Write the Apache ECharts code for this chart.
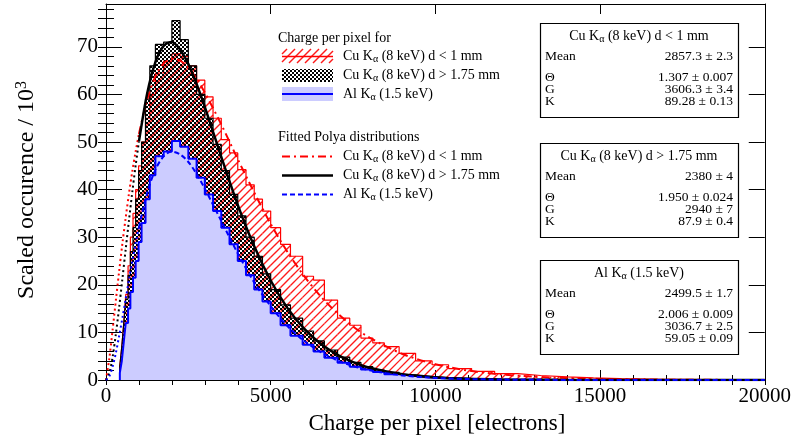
<!DOCTYPE html>
<html><head><meta charset="utf-8">
<script src="https://cdn.jsdelivr.net/npm/echarts@6/dist/echarts.min.js"></script>
<style>html,body{margin:0;padding:0;background:#fff}#c{width:794px;height:443px}</style>
</head><body><div id="c"></div>
<script>
// ---------- data ----------
const binEdges = [420,480,540,600,670,740,820,900,990,1080,1200,1330,1500,1750,2000,2250,2500,2750,3000,3250,3500,3750,4000,4250,4500,4750,5000,5300,5600,5970,6300,6630,7030,7400,7740,8100,8450,8900,9400,9900,10400,11100,11800,12500,13200,14000,14800,15600,16500,17400,18300,19200,20000];
const cuNearCounts = [3,7,12,18,24,30,35,40,45,50,55,60,64.5,67,68.5,68,66,63,59.5,55,50.5,47.7,44.2,41,38,35.5,32,28.5,26,21.8,21,16.8,13,11.5,8.8,7.8,7.0,5.6,4.0,3.2,2.4,1.8,1.35,0.95,0.65,0.45,0.3,0.2,0.13,0.08,0.05,0.03];
const cuFarCounts = [3,7,12,17,22,27,32,38,44,50,59,66,70.5,71,75.5,71.5,66,60,55,49.5,44,39,34.5,30,26,22.3,19,15.8,13,10.3,8.2,6.3,4.8,3.7,2.8,2.1,1.6,1.1,0.75,0.5,0.32,0.18,0.1,0.06,0.03,0.02,0.01,0.01,0.01,0,0,0];
const alCounts = [1.5,4,8,12,15,18.5,21.5,25,29,33,38,43,47,48,50.2,49,46.5,42.5,39,35.5,32,28.5,25,22,19,16.5,14,11.5,9.3,7.4,6.0,4.7,3.6,2.8,2.2,1.7,1.2,0.83,0.55,0.37,0.22,0.12,0.06,0.03,0.02,0.02,0.01,0.01,0,0,0,0];

const fitLowX = [0,100,200,300,400,500,600,700,800,900,1000];
const fitCuNearLow = [0,4.5,10.5,16.8,22.9,28.8,34.2,39.3,43.9,48.0,51.7];
const fitCuFarLow = [0,1.4,4.8,9.7,15.3,21.4,27.6,33.7,39.6,45.1,50.1];
const fitAlLow = [0,0.8,2.8,5.7,9.3,13.1,17.1,21.2,25.0,28.7,32.1];

const fitX = [1000,1250,1500,1750,2000,2250,2500,2750,3000,3500,4000,4500,5000,5500,6000,6500,7000,7500,8000,9000,10000,11000,12000,13000,14000,15000,16000,17000,18000,19000,20000];
const fitCuNear = [51.7,58.9,63.8,66.5,67.5,67.1,65.6,63.3,60.4,53.7,46.4,39.4,32.8,27.0,22.0,17.7,14.2,11.25,8.9,5.47,3.31,1.98,1.17,0.69,0.40,0.23,0.13,0.07,0.04,0.02,0.01];
const fitCuFar = [50.1,60.2,66.8,70.2,71.0,69.4,66.4,62.2,57.4,46.9,36.8,28.1,20.9,15.2,10.9,7.7,5.4,3.75,2.57,1.19,0.53,0.24,0.1,0.045,0.02,0.01,0,0,0,0,0];
const fitAl = [32.1,39.3,44.2,47.0,48.0,47.4,45.8,43.3,40.2,33.4,26.6,20.5,15.5,11.4,8.3,5.94,4.20,2.94,2.04,0.96,0.44,0.2,0.09,0.04,0.02,0.01,0,0,0,0,0];

const xMajorTicks = [0,5000,10000,15000,20000];
const xMinorTicks = [0,1000,2000,3000,4000,5000,6000,7000,8000,9000,10000,11000,12000,13000,14000,15000,16000,17000,18000,19000,20000];
const yMajorTicks = [0,10,20,30,40,50,60,70];
const yMinorTicks = [0,2,4,6,8,10,12,14,16,18,20,22,24,26,28,30,32,34,36,38,40,42,44,46,48,50,52,54,56,58,60,62,64,66,68,70,72,74,76,78];

const statsTitles = [['Cu K','α',' (8 keV) d < 1 mm'],['Cu K','α',' (8 keV) d > 1.75 mm'],['Al K','α',' (1.5 keV)']];
const statsNames = ['Mean','Θ','G','K'];
const statsCuNear = ['2857.3 ± 2.3','1.307 ± 0.007','3606.3 ± 3.4','89.28 ± 0.13'];
const statsCuFar = ['2380 ± 4','1.950 ± 0.024','2940 ± 7','87.9 ± 0.4'];
const statsAl = ['2499.5 ± 1.7','2.006 ± 0.009','3036.7 ± 2.5','59.05 ± 0.09'];
const legendHistLabels = statsTitles;
const legendFitLabels = statsTitles;

// ---------- styling helpers ----------
const FONT = 'Liberation Serif';
const HATCH_STEP = 8;
function checkerCanvas(){
  const c=document.createElement('canvas'); c.width=4; c.height=4;
  const g=c.getContext('2d'); g.fillStyle='#000';
  g.fillRect(0,0,2,2); g.fillRect(2,2,2,2);
  return c;
}
const checker = checkerCanvas();

// diagonal "/" hatch lines clipped to a screen rectangle
function hatchLines(left,right,top,bottom,style){
  const out=[];
  if(right-left<0.5 || bottom-top<0.5) return out;
  const cStart=Math.ceil((left+top)/HATCH_STEP)*HATCH_STEP;
  for(let c=cStart;c<=right+bottom;c+=HATCH_STEP){
    const xa=Math.max(left,c-bottom), xb=Math.min(right,c-top);
    if(xb<=xa) continue;
    out.push({type:'line',shape:{x1:xa,y1:c-xa,x2:xb,y2:c-xb},style:Object.assign({},style)});
  }
  return out;
}
const hatchStyle={stroke:'#ff1a1a',lineWidth:1.35,fill:null};

function histPoints(vals){
  const pts=[[binEdges[0],0]];
  for(let i=0;i<vals.length;i++) pts.push([binEdges[i],vals[i]]);
  pts.push([binEdges[binEdges.length-1], vals[vals.length-1]]);
  return pts;
}
function binTriples(vals){ return vals.map((v,i)=>[binEdges[i],binEdges[i+1],v]); }
function pairs(xs,ys){ return xs.map((x,i)=>[x,ys[i]]); }

function richK(parts, fs){
  return {
    text: '{n|'+parts[0]+'}{s|'+parts[1]+'}{n|'+parts[2]+'}',
    rich: {
      n:{fontFamily:FONT,fontSize:fs,lineHeight:fs+2,fill:'#000',verticalAlign:'middle'},
      s:{fontFamily:FONT,fontSize:Math.round(fs*0.72),lineHeight:7,fill:'#000',verticalAlign:'bottom'}
    }
  };
}

// ---------- axes ----------
const xBase = {type:'value',min:0,max:20000,splitLine:{show:false},axisLine:{show:false},axisLabel:{show:false},axisTick:{show:false}};
const yBase = {type:'value',min:0,max:79,splitLine:{show:false},axisLine:{show:false},axisLabel:{show:false},axisTick:{show:false}};
const blk = {color:'#000',width:1};
const plain = v => String(v);
const xAxes = [
  Object.assign({},xBase,{position:'bottom',axisLine:{show:true,onZero:false,lineStyle:blk},
     axisTick:{show:true,inside:true,length:10,customValues:xMajorTicks,lineStyle:blk},
     axisLabel:{show:true,customValues:xMajorTicks,formatter:plain,fontFamily:FONT,fontSize:21,color:'#000',margin:6}}),
  Object.assign({},xBase,{position:'bottom',axisTick:{show:true,inside:true,length:5,customValues:xMinorTicks,lineStyle:blk}}),
  Object.assign({},xBase,{position:'top',axisLine:{show:true,onZero:false,lineStyle:blk},
     axisTick:{show:true,inside:true,length:10,customValues:xMajorTicks,lineStyle:blk}}),
  Object.assign({},xBase,{position:'top',axisTick:{show:true,inside:true,length:5,customValues:xMinorTicks,lineStyle:blk}})
];
const yAxes = [
  Object.assign({},yBase,{position:'left',axisLine:{show:true,onZero:false,lineStyle:blk},
     axisTick:{show:true,inside:true,length:16,customValues:yMajorTicks,lineStyle:blk},
     axisLabel:{show:true,customValues:yMajorTicks,formatter:plain,fontFamily:FONT,fontSize:21,color:'#000',margin:8}}),
  Object.assign({},yBase,{position:'left',axisTick:{show:true,inside:true,length:8,customValues:yMinorTicks,lineStyle:blk}}),
  Object.assign({},yBase,{position:'right',axisLine:{show:true,onZero:false,lineStyle:blk},
     axisTick:{show:true,inside:true,length:16,customValues:yMajorTicks,lineStyle:blk}}),
  Object.assign({},yBase,{position:'right',axisTick:{show:true,inside:true,length:8,customValues:yMinorTicks,lineStyle:blk}})
];

// ---------- series ----------
const series = [
  {type:'custom',data:binTriples(cuNearCounts),z:2,clip:true,silent:true,
   renderItem:function(params,api){
     const a=api.coord([api.value(0),0]), b=api.coord([api.value(1),api.value(2)]);
     return {type:'group',children:hatchLines(a[0],b[0],b[1],a[1],hatchStyle)};
   }},
  {type:'line',step:'end',symbol:'none',data:histPoints(cuNearCounts),lineStyle:{color:'#ff0000',width:1.2},z:2},
  {type:'line',step:'end',symbol:'none',data:histPoints(cuFarCounts),lineStyle:{color:'#000',width:1.2},areaStyle:{color:{image:checker,repeat:'repeat'},opacity:1},z:3},
  {type:'line',step:'end',symbol:'none',data:histPoints(alCounts),lineStyle:{color:'#0000ff',width:2},areaStyle:{color:'#ccccff',opacity:1},z:4},
  {type:'line',symbol:'none',smooth:0.3,data:pairs(fitLowX,fitCuNearLow),lineStyle:{color:'#ff0000',width:2,type:[2,3]},z:5},
  {type:'line',symbol:'none',smooth:0.3,data:pairs(fitLowX,fitCuFarLow),lineStyle:{color:'#000',width:2,type:[2,3]},z:5},
  {type:'line',symbol:'none',smooth:0.3,data:pairs(fitLowX,fitAlLow),lineStyle:{color:'#0000ff',width:2,type:[2,3]},z:5},
  {type:'line',symbol:'none',smooth:0.3,data:pairs(fitX,fitCuNear),lineStyle:{color:'#ff0000',width:2,type:[8,4,2,4]},z:6},
  {type:'line',symbol:'none',smooth:0.3,data:pairs(fitX,fitCuFar),lineStyle:{color:'#000',width:2.5},z:6},
  {type:'line',symbol:'none',smooth:0.3,data:pairs(fitX,fitAl),lineStyle:{color:'#0000ff',width:2,type:[5,3]},z:6}
];

// ---------- legend & stats boxes (layout graphics) ----------
const graphics = [];
const LX = 282, LW = 51, TX = 343;
graphics.push({type:'text',x:278,y:38,style:{text:'Charge per pixel for',fontFamily:FONT,fontSize:14,fill:'#000',verticalAlign:'middle'}});
const histRowsY = [56,75.5,94];
graphics.push({type:'group',children:hatchLines(LX,LX+LW,49,63,hatchStyle)});
graphics.push({type:'line',shape:{x1:LX,y1:56.5,x2:LX+LW,y2:56.5},style:{stroke:'#ff0000',lineWidth:1.5}});
graphics.push({type:'rect',shape:{x:LX,y:69,width:LW,height:13},style:{fill:{image:checker,repeat:'repeat'}}});
graphics.push({type:'rect',shape:{x:LX,y:87,width:LW,height:14},style:{fill:'#ccccff'}});
graphics.push({type:'line',shape:{x1:LX,y1:94,x2:LX+LW,y2:94},style:{stroke:'#0000ff',lineWidth:2}});
legendHistLabels.forEach((p,i)=>{
  graphics.push({type:'text',x:TX,y:histRowsY[i],style:Object.assign(richK(p,14),{verticalAlign:'middle'})});
});
graphics.push({type:'text',x:278,y:137.5,style:{text:'Fitted Polya distributions',fontFamily:FONT,fontSize:14,fill:'#000',verticalAlign:'middle'}});
const fitRowsY = [156.5,175.5,194.5];
graphics.push({type:'line',shape:{x1:LX,y1:fitRowsY[0],x2:LX+LW,y2:fitRowsY[0]},style:{stroke:'#ff0000',lineWidth:2,lineDash:[8,4,2,4]}});
graphics.push({type:'line',shape:{x1:LX,y1:fitRowsY[1],x2:LX+LW,y2:fitRowsY[1]},style:{stroke:'#000',lineWidth:2.5}});
graphics.push({type:'line',shape:{x1:LX,y1:fitRowsY[2],x2:LX+LW,y2:fitRowsY[2]},style:{stroke:'#0000ff',lineWidth:2,lineDash:[5,3]}});
legendFitLabels.forEach((p,i)=>{
  graphics.push({type:'text',x:TX,y:fitRowsY[i],style:Object.assign(richK(p,14),{verticalAlign:'middle'})});
});

const boxTops = [23,143,260];
const boxVals = [statsCuNear,statsCuFar,statsAl];
const rowOff = [33,54.5,66.5,78];
boxTops.forEach((top,b)=>{
  graphics.push({type:'rect',shape:{x:540.5,y:top+0.5,width:198,height:94},style:{fill:'#fff',stroke:'#000',lineWidth:1.2},z:10});
  graphics.push({type:'text',x:639,y:top+13.5,z:11,style:Object.assign(richK(statsTitles[b],14),{align:'center',verticalAlign:'middle'})});
  statsNames.forEach((nm,r)=>{
    graphics.push({type:'text',x:545,y:top+rowOff[r],z:11,style:{text:nm,fontFamily:FONT,fontSize:13.5,fill:'#000',verticalAlign:'middle'}});
    graphics.push({type:'text',x:733,y:top+rowOff[r],z:11,style:{text:boxVals[b][r],fontFamily:FONT,fontSize:13.5,fill:'#000',align:'right',verticalAlign:'middle'}});
  });
});

// axis titles
graphics.push({type:'text',x:437,y:424,style:{text:'Charge per pixel [electrons]',fontFamily:FONT,fontSize:23,fill:'#000',align:'center',verticalAlign:'middle'}});
graphics.push({type:'text',x:27,y:190,rotation:Math.PI/2,style:{
  text:'{a|Scaled occurence / 10}{b|3}',align:'center',verticalAlign:'middle',
  rich:{a:{fontFamily:FONT,fontSize:24,lineHeight:26,fill:'#000',verticalAlign:'middle'},
        b:{fontFamily:FONT,fontSize:16,lineHeight:14,fill:'#000',verticalAlign:'top'}}}});

const chart = echarts.init(document.getElementById('c'));
chart.setOption({
  animation:false,
  backgroundColor:'#fff',
  grid:{left:106,right:27,top:4,bottom:63,containLabel:false},
  xAxis:xAxes,
  yAxis:yAxes,
  series:series,
  graphic:graphics
});
</script>
</body></html>
